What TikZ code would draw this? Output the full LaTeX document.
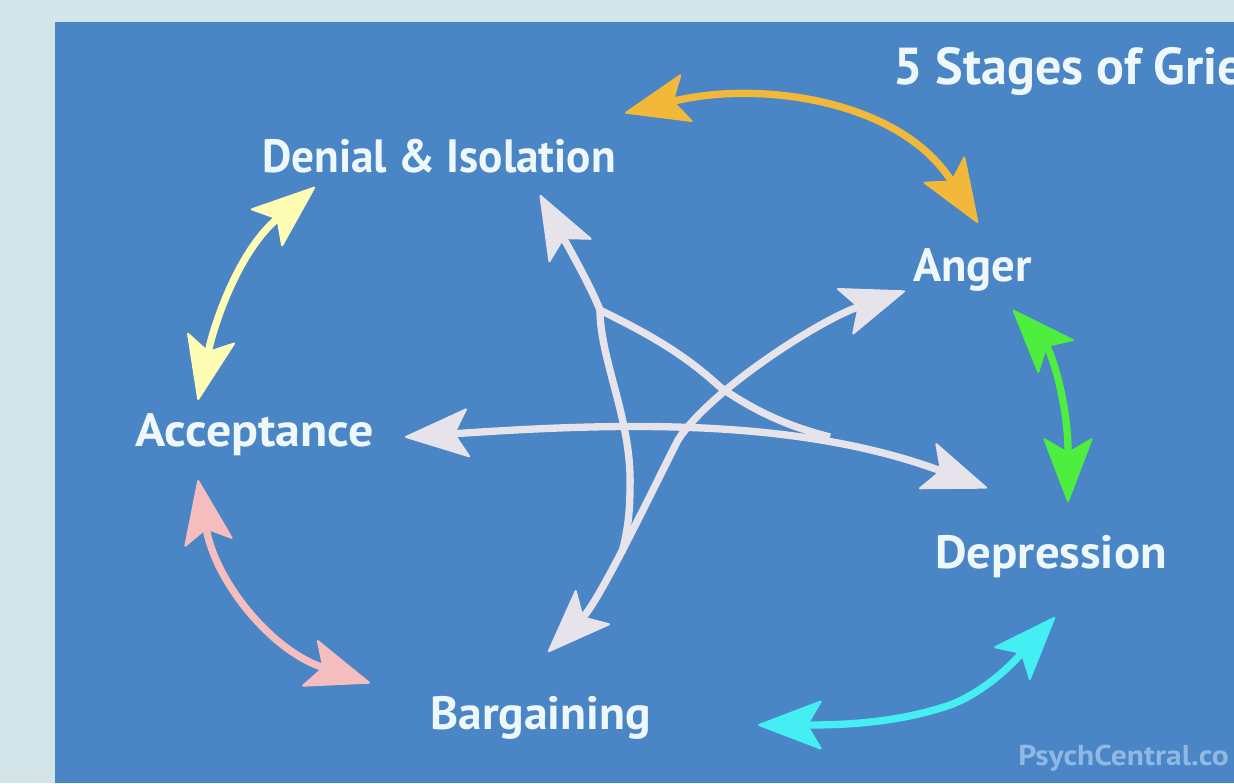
\documentclass[tikz,border=0pt]{standalone}
\usepackage{fontspec}
\setmainfont{PT Sans}
\newfontfamily\wmfont[FakeStretch=1.1]{PT Sans}
\usetikzlibrary{arrows.meta}
\definecolor{bgout}{HTML}{D3E5E9}
\definecolor{panel}{HTML}{4A85C5}
\definecolor{txt}{HTML}{EEF8FA}
\definecolor{orangeA}{HTML}{F2B83A}
\definecolor{yellowA}{HTML}{FFFDB4}
\definecolor{pinkA}{HTML}{F6BDBE}
\definecolor{cyanA}{HTML}{45EEF2}
\definecolor{greenA}{HTML}{4EEE3E}
\definecolor{whiteA}{HTML}{E6E4EA}
\definecolor{wmcol}{HTML}{8FB9E3}
\begin{document}
\begin{tikzpicture}[x=0.75pt,y=-0.75pt,
  lbl/.style={anchor=base west, inner sep=0pt, text=txt, font=\fontsize{35}{40}\selectfont\bfseries},
  ttlstyle/.style={anchor=base west, inner sep=0pt, text=txt, font=\fontsize{39}{44}\selectfont\bfseries},
  wmstyle/.style={anchor=base west, inner sep=0pt, text=wmcol, font=\wmfont\fontsize{21.5}{24}\selectfont\bfseries},
  hd/.tip={Stealth[length=50pt,width=38pt,inset=11pt,line width=1.5pt,round]},
  conn/.style={line width=5.5pt},
  wline/.style={conn, draw=whiteA},
]
\clip (0,0) rectangle (1234,783);
\fill[bgout] (0,0) rectangle (1234,783);
\fill[panel] (55,22) rectangle (1234,783);

% named end points
\coordinate (oL) at (625,113);  \coordinate (oR) at (978,223);
\coordinate (yT) at (315,187);  \coordinate (yB) at (198,400);
\coordinate (pT) at (198,480);  \coordinate (pB) at (370,683);
\coordinate (cL) at (758,725);  \coordinate (cR) at (1055,617);
\coordinate (gT) at (1013,310); \coordinate (gB) at (1068,502);
\coordinate (denT) at (540,195);
\coordinate (angT) at (905,291);
\coordinate (accT) at (405,437);
\coordinate (depT) at (987,488);
\coordinate (barT) at (548,652);
\coordinate (J) at (600,310);
\coordinate (mA) at (720,387);
\coordinate (mB) at (678,440);
\coordinate (mC) at (630,487);
\coordinate (endD) at (830,437);
\coordinate (endB) at (622,552);
\coordinate (cM) at (950,705);

% white star
\draw[wline, hd-hd] (accT) .. controls (600,424) and (790,415) .. (depT);
\draw[wline, hd-] (denT) .. controls (570,250) and (590,285) .. (J)
   .. controls (640,330) and (680,350) .. (mA)
   .. controls (760,415) and (795,428) .. (endD);
\draw[wline] (J) .. controls (600,360) and (632,420) .. (mC)
   .. controls (630,510) and (628,530) .. (endB);
\draw[wline, hd-hd] (angT) .. controls (820,320) and (710,390) .. (mB)
   .. controls (655,485) and (600,600) .. (barT);

% coloured double arrows
\draw[conn, draw=orangeA, hd-hd] (oL) .. controls (760,80) and (900,100) .. (oR);
\draw[conn, draw=yellowA, hd-hd] (yB) .. controls (215,320) and (240,250) .. (yT);
\draw[conn, draw=pinkA, hd-hd] (pT) .. controls (215,580) and (270,650) .. (pB);
\draw[conn, draw=cyanA, hd-hd] (cL) .. controls (850,725) and (900,722) .. (cM)
   .. controls (990,690) and (1020,655) .. (cR);
\draw[conn, draw=greenA, hd-hd] (gT) .. controls (1050,350) and (1068,400) .. (gB);

% labels
\node[ttlstyle] (ttl) at (893,84) {5 Stages of Grie};
\node[lbl] (den) at (262,172) {\scalebox{0.97}[1]{Denial \& Isolation}};
\node[lbl] (ang) at (913,281) {Anger};
\node[lbl] (acc) at (135,446) {\scalebox{1.07}[1]{Acceptance}};
\node[lbl] (dep) at (935,568) {\scalebox{1.045}[1]{Depression}};
\node[lbl] (bar) at (430,729) {\scalebox{1.02}[1]{Bargaining}};
\node[wmstyle] (wm) at (1018,765) {PsychCentral.co};
\end{tikzpicture}
\end{document}
